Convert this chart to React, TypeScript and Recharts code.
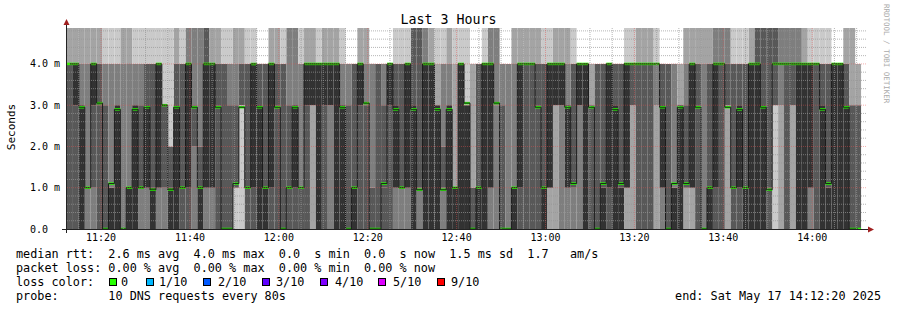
import { Bar, ComposedChart, Line, ReferenceLine, XAxis, YAxis } from "recharts";

const FONT = '"DejaVu Sans Mono", monospace';

// 3 hours of 80 s steps, 11:12:20 -> 14:12:20 (seconds after midnight)
const stepSec = 80;
const startSec = 11 * 3600 + 12 * 60 + 20;
const endSec = startSec + 3 * 3600;

const timeLabels = ["11:20", "11:40", "12:00", "12:20", "12:40", "13:00", "13:20", "13:40", "14:00"];
const yLabels = ["0.0  ", "1.0 m", "2.0 m", "3.0 m", "4.0 m"];

// the 10 pings of every step, one char per ping (ms); 5 = above the graph
const smoke = [
  "0000444455", "0000344455", "0000033455", "0001111455", "0001344455", "0000334455", "0000003445", "0000011445", "0000033445", "0000000455",
  "0000011455", "0000033445", "0001113445", "0001134445", "0000014445", "0001144445", "0001333335", "0000012225", "0000034455", "0000114445",
  "0000144555", "0002333555", "0000012555", "0001145555", "0001144455", "0000334455", "0000004445", "0000003445", "0111113455", "0333334455",
  "0000114445", "0000144445", "0000034444", "0000014444", "0000144455", "0000334455", "0000004445", "0000113555", "0000133555", "0000111445",
  "0000344455", "0033344455", "0000044445", "0000344455", "0003344455", "0000044455", "0000033445", "0000003444", "0000014444", "0000344455",
  "0000333455", "0000001444", "0000004444", "0000113444", "0000344444", "0001134445", "0001114445", "0001144445", "0000035555", "0001115555",
  "0000044555", "0000044455", "0000033345", "0001112445", "0000033455", "0000011145", "0000044445", "0000033335", "0000001144", "0000014444",
  "0000044445", "0001144555", "0003333555", "0000003444", "0000000444", "0000011455", "0000144455", "0000444455", "0000444455", "0000334455",
  "0000014445", "0011144445", "0033344455", "0003344455", "0001133455", "0001114445", "0003344444", "0000044444", "0000333344", "0000004444",
  "0000014444", "0000144444", "0000034444", "0000014444", "0011144445", "0033444445", "0000444455", "0000444455", "0000444455", "0034444445",
  "0001134444", "0000004444", "0000011444", "0000033344", "0011113455", "0011144455", "0000334455", "0000000455", "0000014455", "0000144555",
  "0000444555", "0033334555", "0000114445", "0000134445", "0000014445", "0000044455", "0000045555", "0000035555", "0000115555", "0333445555",
  "0034444555", "0000444555", "0033444555", "0000044555", "0000044455", "0001144445", "0000444445", "0000034445", "0000014445", "0000044444",
  "0000044444", "0000034455", "0000003355", "0000003344",
];

// median rtt of every step (ms)
const median = [
  4, 4, 2.95, 1.0, 4, 3.05, 0, 1.1, 2.9, 0,
  1.0, 2.9, 1.0, 2.95, 0.95, 4, 3.0, 0.95, 2.95, 1.0,
  4, 2.95, 1.0, 4, 4, 2.95, 0, 0, 1.1, 2.95,
  1.0, 4, 2.95, 1.0, 4, 2.95, 0, 1.0, 2.95, 1.0,
  4, 4, 4, 4, 4, 4, 2.95, 0, 1.0, 4,
  3.05, 0, 0, 1.1, 4, 2.9, 1.0, 4, 2.9, 0.95,
  4, 4, 2.9, 0.95, 2.9, 1.0, 4, 3.05, 0, 1.0,
  4, 4, 3.05, 0, 0, 1.0, 4, 4, 4, 2.95,
  1.0, 4, 4, 4, 2.95, 1.1, 4, 4, 2.95, 0,
  1.1, 4, 2.9, 1.1, 4, 4, 4, 4, 4, 4,
  2.95, 0, 1.1, 2.95, 1.1, 4, 2.95, 0, 1.0, 4,
  4, 2.95, 1.0, 2.9, 1.0, 4, 4, 2.95, 0.95, 4,
  4, 4, 4, 4, 4, 4, 4, 2.9, 1.1, 4,
  4, 2.95, 0, 0,
];

const pingMs: Record<string, number> = { "0": 0, "1": 1, "2": 2, "3": 3, "4": 4, "5": 6 };

const greys = ["#cacaca", "#a4a4a4", "#7e7e7e", "#585858", "#323232", "#585858", "#7e7e7e", "#a4a4a4", "#cacaca"];

const lossLabels = ["0", "1/10", "2/10", "3/10", "4/10", "5/10", "9/10"];
const lossColors = ["#26ff00", "#00b8ff", "#0059ff", "#5e00ff", "#7e00ff", "#dd00ff", "#ff0000"];
const lossBoxX = [109, 146, 203, 262, 320, 378, 437];
const lossTextX = [121, 159, 218, 276, 335, 393, 451];

const stats = [
  "median rtt:  2.6 ms avg  4.0 ms max  0.0  s min  0.0  s now  1.5 ms sd  1.7   am/s",
  "packet loss: 0.00 % avg  0.00 % max  0.00 % min  0.00 % now",
];

const toSec = (t: string) => {
  const [h, m] = t.split(":").map(Number);
  return h * 3600 + m * 60;
};

const rows: Record<string, unknown>[] = smoke.map((s, i) => {
  const p = s.split("").map((c) => pingMs[c]).sort((a, b) => a - b);
  const row: Record<string, unknown> = {
    step: i,
    t: startSec + stepSec * (i + 0.5),
    base: p[0],
    m: median[i],
  };
  for (let k = 1; k < p.length; k++) row["b" + k] = p[k] - p[k - 1];
  row.med = [median[i] - 0.03, median[i] + 0.03];
  return row;
});
rows.push({ step: rows.length, t: startSec + stepSec * (rows.length + 0.5) }); // last step not finished yet

const timeTicks = timeLabels.map(toSec);
const minorTimes: number[] = [];
for (let t = Math.ceil(startSec / 300) * 300; t < endSec; t += 300) {
  if (t % 1200 !== 0) minorTimes.push(t);
}
const minorY: number[] = [];
for (let v = 1; v < 25; v++) if (v % 5 !== 0) minorY.push(v / 5);

const minorColor = "rgba(150,150,150,0.7)";
const majorColor = "rgba(230,80,80,0.45)";

const YTick = ({ x, y, payload }: any) => (
  <text x={x} y={y} dy="0.355em" textAnchor="end" fontFamily={FONT} fontSize={10} fill="#000" style={{ whiteSpace: "pre" }}>
    {yLabels[Math.round(payload.value)]}
  </text>
);

const TimeTick = ({ x, y, payload }: any) => {
  const i = timeTicks.indexOf(payload.value);
  if (i < 0) return <g />;
  return (
    <text x={x} y={y} dy="0.71em" textAnchor="middle" fontFamily={FONT} fontSize={10} fill="#000">
      {timeLabels[i]}
    </text>
  );
};

export default function App() {
  return (
    <div style={{ position: "absolute", left: 0, top: 0, width: 897, height: 310, background: "#fff" }}>
      <ComposedChart
        width={897}
        height={310}
        data={rows}
        margin={{ top: 28, right: 30, bottom: 61, left: 0 }}
        barCategoryGap={0}
        barGap={0}
        barSize={5.92}
      >
        <XAxis
          xAxisId="time"
          dataKey="t"
          type="number"
          scale="linear"
          domain={[startSec, endSec]}
          allowDataOverflow
          ticks={timeTicks}
          interval={0}
          axisLine={false}
          tickLine={false}
          tickSize={0}
          tickMargin={5}
          height={20}
          tick={<TimeTick />}
        />
        <XAxis xAxisId="smoke" dataKey="step" hide height={0} />
        <XAxis xAxisId="med" dataKey="step" hide height={0} />
        <YAxis
          domain={[0, 4.87]}
          allowDataOverflow
          ticks={[0, 1, 2, 3, 4]}
          width={67}
          axisLine={false}
          tickLine={false}
          tickSize={0}
          tickMargin={7}
          tick={<YTick />}
        />
        <Bar xAxisId="smoke" stackId="smoke" dataKey="base" fill="none" isAnimationActive={false} />
        {greys.map((c, k) => (
          <Bar key={k} xAxisId="smoke" stackId="smoke" dataKey={"b" + (k + 1)} fill={c} isAnimationActive={false} />
        ))}
        <Line
          xAxisId="med"
          type="step"
          dataKey="m"
          stroke="#1a1a1a"
          strokeWidth={1}
          dot={false}
          activeDot={false}
          isAnimationActive={false}
        />
        <Bar xAxisId="med" dataKey="med" fill="#26ff00" isAnimationActive={false} />
        {minorY.map((v) => (
          <ReferenceLine key={"my" + v} xAxisId="time" y={v} stroke={minorColor} strokeDasharray="1 1" zIndex={1000} />
        ))}
        {minorTimes.map((t) => (
          <ReferenceLine key={"mx" + t} xAxisId="time" x={t} stroke={minorColor} strokeDasharray="1 1" zIndex={1000} />
        ))}
        {[1, 2, 3, 4].map((v) => (
          <ReferenceLine key={"My" + v} xAxisId="time" y={v} stroke={majorColor} strokeDasharray="1 1" zIndex={1000} />
        ))}
        {timeTicks.map((t) => (
          <ReferenceLine key={"Mx" + t} xAxisId="time" x={t} stroke={majorColor} strokeDasharray="1 1" zIndex={1000} />
        ))}
      </ComposedChart>

      <svg
        width={897}
        height={310}
        style={{ position: "absolute", left: 0, top: 0, pointerEvents: "none" }}
        fontFamily={FONT}
      >
        <text x={448.5} y={24} textAnchor="middle" fontSize={13.3} fill="#000">
          Last 3 Hours
        </text>
        <text transform="translate(15,127) rotate(-90)" textAnchor="middle" fontSize={11} fill="#000">
          Seconds
        </text>
        <text transform="translate(883.5,4) rotate(90)" fontSize={7.5} fill="#aaa">
          RRDTOOL / TOBI OETIKER
        </text>

        <line x1={62} y1={229.5} x2={868} y2={229.5} stroke="#222" />
        <polygon points="868,226.5 868,232.5 874,229.5" fill="#a02020" />
        <line x1={66.5} y1={233} x2={66.5} y2={24} stroke="#222" />
        <polygon points="63.5,25 69.5,25 66.5,19" fill="#a02020" />

        {stats.map((s, i) => (
          <text key={i} x={16} y={258 + i * 14} fontSize={11.8} fill="#000" style={{ whiteSpace: "pre" }}>
            {s}
          </text>
        ))}
        <text x={16} y={286} fontSize={11.8} fill="#000">
          loss color:
        </text>
        {lossLabels.map((l, i) => (
          <g key={l}>
            <rect x={lossBoxX[i] + 0.5} y={278.5} width={7} height={7} fill={lossColors[i]} stroke="#000" />
            <text x={lossTextX[i]} y={286} fontSize={11.8} fill="#000">
              {l}
            </text>
          </g>
        ))}
        <text x={16} y={300} fontSize={11.8} fill="#000" style={{ whiteSpace: "pre" }}>
          {"probe:       10 DNS requests every 80s"}
        </text>
        <text x={881} y={300} textAnchor="end" fontSize={11.8} fill="#000">
          end: Sat May 17 14:12:20 2025
        </text>
      </svg>
    </div>
  );
}
